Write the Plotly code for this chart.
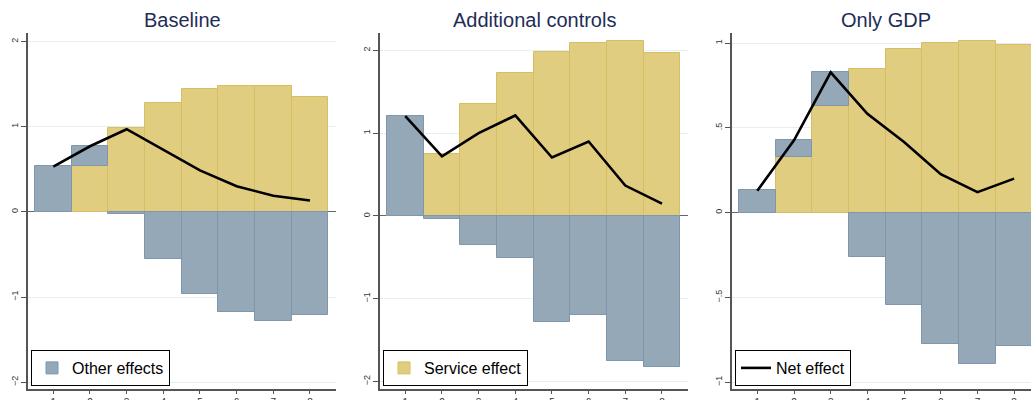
import plotly.graph_objects as go

# horizons 1..8
horizon = [1, 2, 3, 4, 5, 6, 7, 8]

# panel titles
titles = ['Baseline', 'Additional controls', 'Only GDP']

# Baseline
service_base = [0.0, 0.537, 0.988, 1.275, 1.447, 1.475, 1.475, 1.349]
other_base = [0.537, 0.235, -0.02, -0.549, -0.96, -1.176, -1.286, -1.216]
net_base = [0.53, 0.77, 0.97, 0.726, 0.487, 0.30, 0.19, 0.133]

# Additional controls
service_ctrl = [0.0, 0.754, 1.351, 1.722, 1.984, 2.093, 2.117, 1.964]
other_ctrl = [1.206, -0.036, -0.355, -0.508, -1.282, -1.198, -1.754, -1.819]
net_ctrl = [1.206, 0.72, 1.0, 1.214, 0.706, 0.90, 0.367, 0.149]

# Only GDP
service_gdp = [0.0, 0.33, 0.632, 0.846, 0.964, 1.0, 1.012, 0.988]
other_gdp = [0.134, 0.101, 0.198, -0.263, -0.547, -0.773, -0.891, -0.787]
net_gdp = [0.13, 0.427, 0.828, 0.583, 0.417, 0.227, 0.121, 0.201]

ytick_vals = [[-2, -1, 0, 1, 2], [-2, -1, 0, 1, 2], [-1, -0.5, 0, 0.5, 1]]
ytick_text = [['−2', '−1', '0', '1', '2'], ['−2', '−1', '0', '1', '2'],
              ['−1', '−.5', '0', '.5', '1']]
yranges = [[-2.08, 2.10], [-2.09, 2.21], [-1.04, 1.06]]
xranges = [[0.31, 8.71], [0.31, 8.71], [0.31, 8.46]]

W, H = 1031, 400
x_left = [28, 380, 732]
x_right = [336, 688, 1031]

YELLOW = '#e1cd80'
YELLOW_EDGE = '#d6bf63'
BLUE = '#95a8b8'
BLUE_EDGE = '#8096ab'

panels = [
    (service_base, other_base, net_base),
    (service_ctrl, other_ctrl, net_ctrl),
    (service_gdp, other_gdp, net_gdp),
]

fig = go.Figure()

for i, (serv, oth, net) in enumerate(panels):
    n = '' if i == 0 else str(i + 1)
    fig.add_trace(go.Bar(
        x=horizon, y=serv, width=1, name='Service effect',
        marker=dict(color=YELLOW, line=dict(color=YELLOW_EDGE, width=1)),
        xaxis='x' + n, yaxis='y' + n,
        showlegend=(i == 1), legend='legend2'))
    fig.add_trace(go.Bar(
        x=horizon, y=oth, width=1, name='Other effects',
        marker=dict(color=BLUE, line=dict(color=BLUE_EDGE, width=1)),
        xaxis='x' + n, yaxis='y' + n,
        showlegend=(i == 0), legend='legend'))
    fig.add_trace(go.Scatter(
        x=horizon, y=net, mode='lines', name='Net effect',
        line=dict(color='black', width=2.6),
        xaxis='x' + n, yaxis='y' + n,
        showlegend=(i == 2), legend='legend3'))

y_dom = [(400 - 389) / H, (400 - 33) / H]

layout = dict(
    width=W, height=H,
    margin=dict(l=0, r=0, t=0, b=0, autoexpand=False),
    paper_bgcolor='white', plot_bgcolor='white',
    barmode='relative', bargap=0,
    font=dict(family='Liberation Sans, Arial, sans-serif', color='#333333'),
)

for i in range(3):
    n = '' if i == 0 else str(i + 1)
    layout['xaxis' + n] = dict(
        domain=[x_left[i] / W, x_right[i] / W], anchor='y' + n,
        range=xranges[i], tickvals=horizon, ticks='outside', ticklen=3,
        tickcolor='#555555', tickfont=dict(size=10, color='#333333'),
        showline=True, linecolor='#555555', linewidth=1.5,
        showgrid=False, zeroline=False, fixedrange=True, automargin=False)
    layout['yaxis' + n] = dict(
        domain=y_dom, anchor='x' + n,
        range=yranges[i], tickvals=ytick_vals[i], ticktext=ytick_text[i],
        tickangle=-90, ticks='outside', ticklen=5, tickcolor='#555555',
        tickfont=dict(size=9, color='#333333'),
        showline=True, linecolor='#555555', linewidth=1.5,
        showgrid=True, gridcolor='#e6eef0', gridwidth=1,
        zeroline=True, zerolinecolor='#666666', zerolinewidth=1,
        fixedrange=True, automargin=False)

# one legend entry per panel, bottom left
leg_x = [31, 383, 735]
for i, key in enumerate(['legend', 'legend2', 'legend3']):
    layout[key] = dict(
        x=leg_x[i] / W, y=(400 - 386) / H, xanchor='left', yanchor='bottom',
        bgcolor='white', bordercolor='black', borderwidth=1,
        font=dict(size=16, color='black'), itemwidth=30,
        tracegroupgap=0)

fig.update_layout(**layout)

for i, t in enumerate(titles):
    fig.add_annotation(
        text=t, xref='paper', yref='paper',
        x=(x_left[i] + (x_right[i] if i < 2 else 1040)) / 2 / W,
        y=(400 - 20) / H, xanchor='center', yanchor='middle',
        showarrow=False, font=dict(size=20, color='#1e2d55'))

# drop the default page margin so the figure sits at the window corner
fig.write_html('out.html', config={'displayModeBar': False},
               post_script="document.body.style.margin='0';")
